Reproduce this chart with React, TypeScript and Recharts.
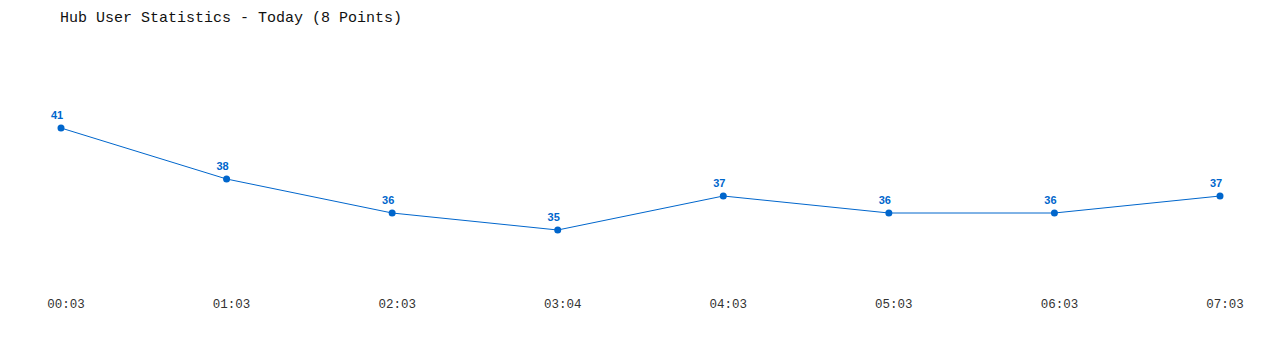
import React from 'react';
import { LineChart, Line, XAxis, YAxis, LabelList } from 'recharts';

const times = ['00:03', '01:03', '02:03', '03:04', '04:03', '05:03', '06:03', '07:03'];
const users = [41, 38, 36, 35, 37, 36, 36, 37];

const data = times.map((t, i) => ({ time: t, users: users[i] }));

const BLUE = '#0066cc';

const Tick = (props: any) => {
  const { x, y, payload } = props;
  return (
    <text x={x + 5} y={y + 27} textAnchor="middle" fill="#333" fontFamily="'Liberation Mono', 'DejaVu Sans Mono', monospace" fontSize={12.5}>
      {payload.value}
    </text>
  );
};

const ValueLabel = (props: any) => {
  const { x, y, value } = props;
  return (
    <text x={x - 4} y={y - 9} textAnchor="middle" fill={BLUE} fontFamily="'Liberation Sans', Arial, sans-serif" fontWeight="bold" fontSize={11}>
      {value}
    </text>
  );
};

export default function App() {
  return (
    <div style={{ position: 'relative', width: 1264, height: 330 }}>
      <div
        style={{
          position: 'absolute',
          left: 52,
          top: 3,
          fontFamily: "'Liberation Mono', 'DejaVu Sans Mono', monospace",
          fontSize: 15,
          lineHeight: '15px',
          color: '#111',
          whiteSpace: 'nowrap',
        }}
      >
        Hub User Statistics - Today (8 Points)
      </div>
      <LineChart width={1264} height={330} data={data} margin={{ top: 69, right: 52, bottom: 27, left: 53 }}>
        <XAxis dataKey="time" height={30} axisLine={false} tickLine={false} tickSize={0} tickMargin={0} tick={<Tick />} interval={0} />
        <YAxis hide domain={[32, 44]} width={0} />
        <Line
          type="linear"
          dataKey="users"
          stroke={BLUE}
          strokeWidth={1}
          dot={{ r: 3.5, fill: BLUE, stroke: BLUE, strokeWidth: 0 }}
          activeDot={false}
          isAnimationActive={false}
        >
          <LabelList dataKey="users" content={<ValueLabel />} />
        </Line>
      </LineChart>
    </div>
  );
}
